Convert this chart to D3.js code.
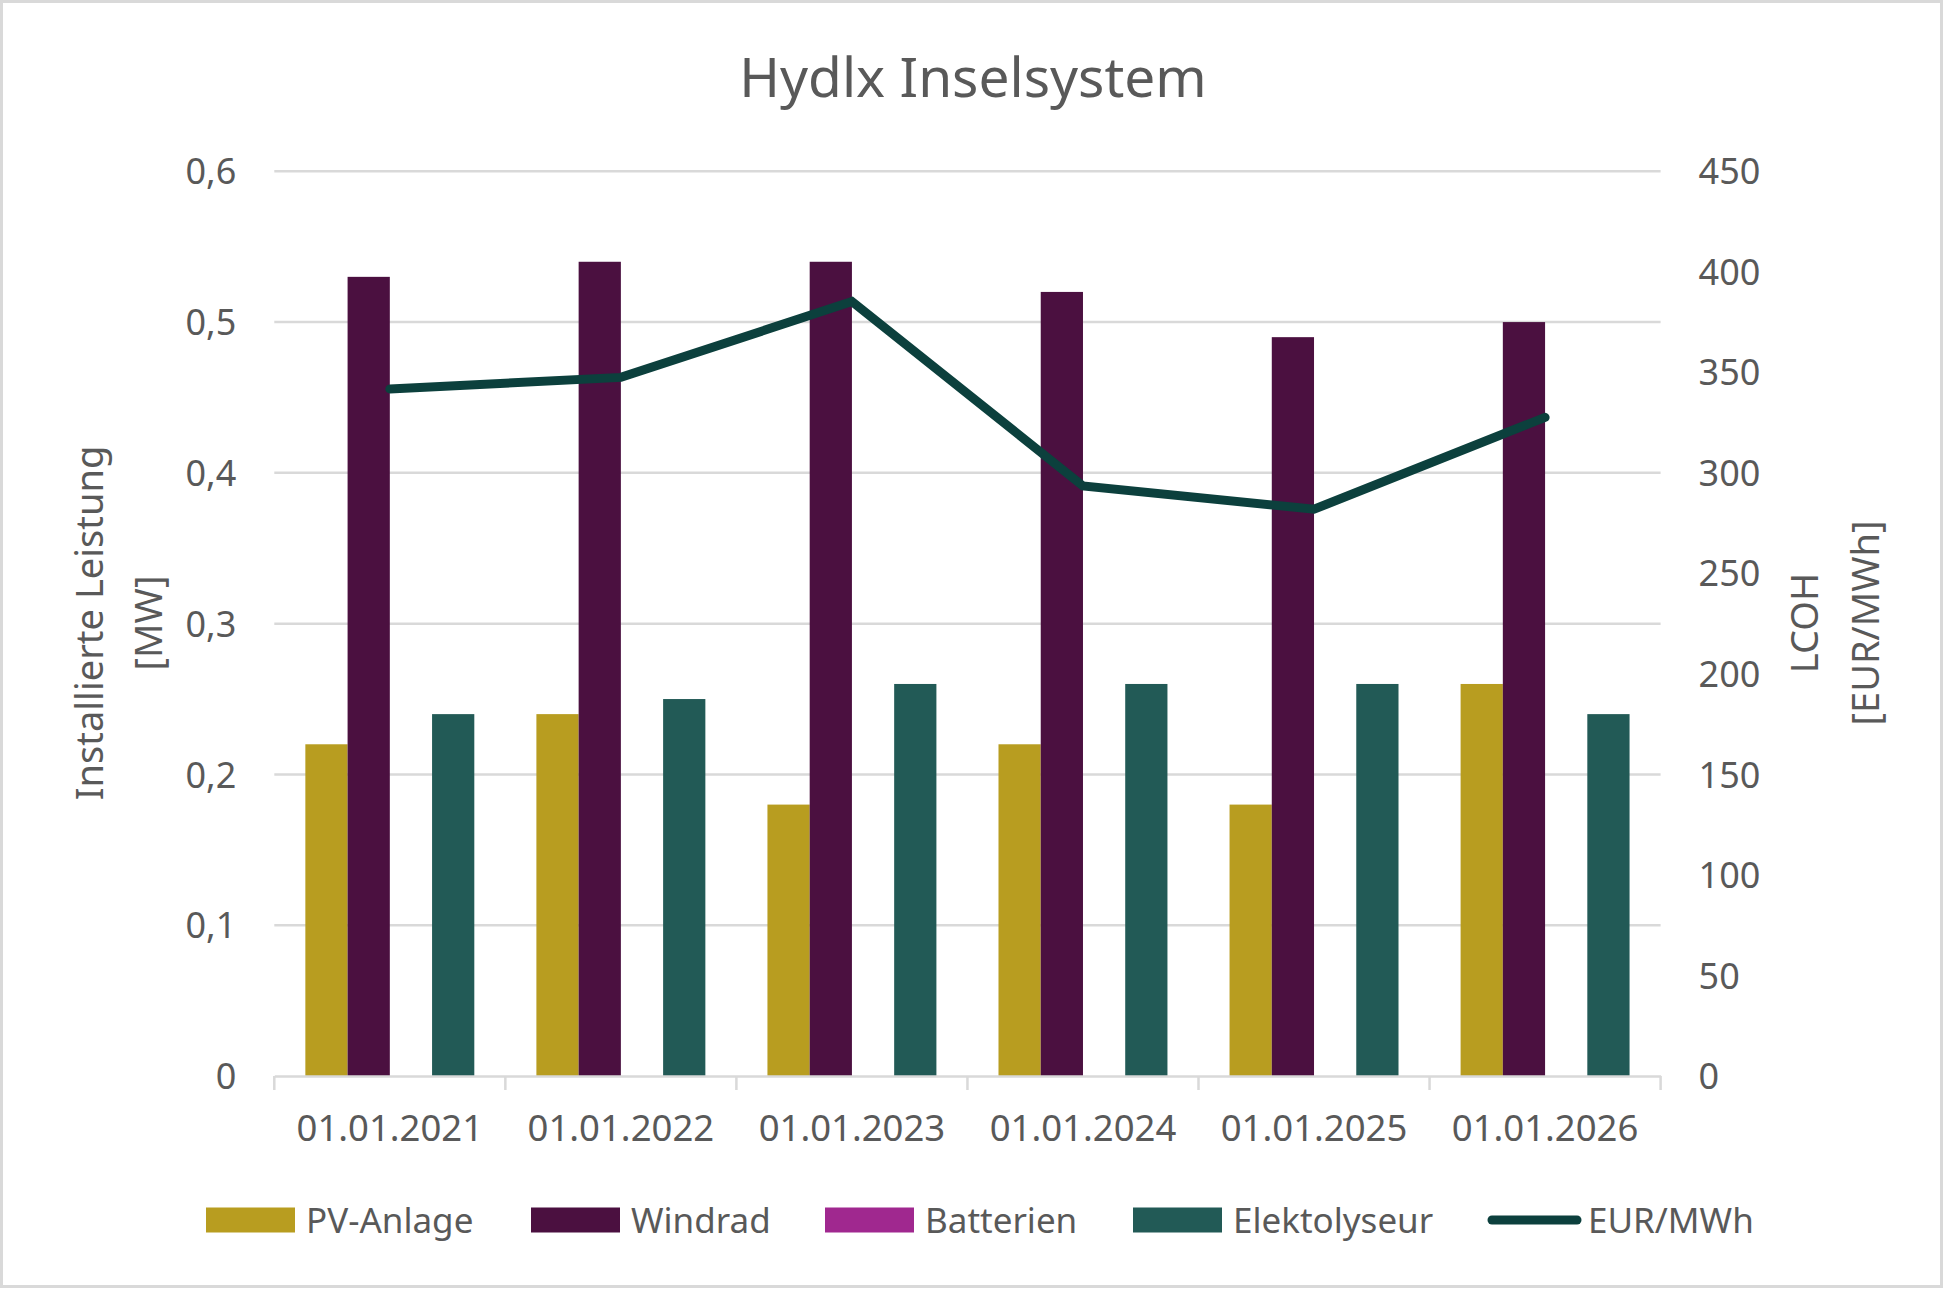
<!DOCTYPE html>
<html>
<head>
<meta charset="utf-8">
<script src="https://cdn.jsdelivr.net/npm/d3@7"></script>
<style>
  html, body { margin: 0; padding: 0; background: #fff; }
  svg { display: block; }
  text { font-family: "Noto Sans", "Open Sans", sans-serif; fill: #595959; }
</style>
</head>
<body>
<svg id="chart" width="1946" height="1289"></svg>
<script>
// ---- data ----
const categories = ["01.01.2021", "01.01.2022", "01.01.2023", "01.01.2024", "01.01.2025", "01.01.2026"];
const seriesNames = ["PV-Anlage", "Windrad", "Batterien", "Elektolyseur"];
const pvAnlage     = [0.22, 0.24, 0.18, 0.22, 0.18, 0.26];
const windrad      = [0.53, 0.54, 0.54, 0.52, 0.49, 0.50];
const batterien    = [0, 0, 0, 0, 0, 0];
const elektolyseur = [0.24, 0.25, 0.26, 0.26, 0.26, 0.24];
const eurMWh       = [341.7, 347.5, 385.2, 293.5, 281.9, 327.6];
const leftTicks  = [0, 0.1, 0.2, 0.3, 0.4, 0.5, 0.6];
const rightTicks = [0, 50, 100, 150, 200, 250, 300, 350, 400, 450];
const lineName = "EUR/MWh";
const title = "Hydlx Inselsystem";
const leftTitle = ["Installierte Leistung", "[MW]"];
const rightTitle = ["LCOH", "[EUR/MWh]"];

const seriesValues = [pvAnlage, windrad, batterien, elektolyseur];
const colors = ["#b89d20", "#4b1040", "#a0288f", "#225a56"];
const lineColor = "#0c403d";

// ---- layout ----
const svg = d3.select("#chart");
const W = 1946, H = 1289;
const plot = { left: 274.3, right: 1660.6, top: 171.3, bottom: 1076 };

svg.append("rect")
  .attr("x", 1.5).attr("y", 1.5).attr("width", W - 6).attr("height", H - 4)
  .attr("fill", "#fff").attr("stroke", "#d9d9d9").attr("stroke-width", 3);

const x = d3.scaleBand().domain(categories).range([plot.left, plot.right]).padding(0);
const x1 = d3.scaleBand().domain(seriesNames).range([0, x.bandwidth()])
  .paddingInner(0).paddingOuter(0.735);
const yL = d3.scaleLinear().domain([0, 0.6]).range([plot.bottom, plot.top]);
const yR = d3.scaleLinear().domain([0, 450]).range([plot.bottom, plot.top]);

// gridlines
svg.append("g").selectAll("line").data(leftTicks.filter(d => d > 0)).join("line")
  .attr("x1", plot.left).attr("x2", plot.right)
  .attr("y1", d => yL(d)).attr("y2", d => yL(d))
  .attr("stroke", "#d9d9d9").attr("stroke-width", 2.5);

// bars
seriesNames.forEach((s, si) => {
  svg.append("g").selectAll("rect").data(categories).join("rect")
    .attr("x", c => x(c) + x1(s))
    .attr("width", x1.bandwidth())
    .attr("y", (c, i) => yL(seriesValues[si][i]))
    .attr("height", (c, i) => plot.bottom - yL(seriesValues[si][i]))
    .attr("fill", colors[si]);
});

// bottom axis
const xAxis = d3.axisBottom(x).tickSize(0).tickFormat(d => d);
const gx = svg.append("g").attr("transform", `translate(0,${plot.bottom})`).call(xAxis);
gx.select(".domain").attr("stroke", "#d9d9d9").attr("stroke-width", 2.5);
gx.selectAll(".tick text").attr("font-size", 36.5).attr("dy", 0).attr("y", 65)
  .attr("fill", "#595959").style("font-family", '"Noto Sans", sans-serif');
// category boundary ticks
const bounds = categories.map(c => x(c)).concat([plot.right]);
svg.append("g").selectAll("line").data(bounds).join("line")
  .attr("x1", d => d).attr("x2", d => d)
  .attr("y1", plot.bottom).attr("y2", plot.bottom + 14)
  .attr("stroke", "#d9d9d9").attr("stroke-width", 2.5);

// left axis labels
const commaFmt = d => d === 0 ? "0" : d3.format(".1f")(d).replace(".", ",");
const yAxisL = d3.axisLeft(yL).tickValues(leftTicks).tickSize(0).tickFormat(commaFmt);
const gyl = svg.append("g").attr("transform", `translate(${plot.left - 38},0)`).call(yAxisL);
gyl.select(".domain").remove();
gyl.selectAll(".tick text").attr("font-size", 36).attr("x", 0).attr("dy", "0.35em")
  .attr("fill", "#595959").style("font-family", '"Noto Sans", sans-serif');

// right axis labels
const yAxisR = d3.axisRight(yR).tickValues(rightTicks).tickSize(0).tickFormat(d3.format("d"));
const gyr = svg.append("g").attr("transform", `translate(${plot.right + 38},0)`).call(yAxisR);
gyr.select(".domain").remove();
gyr.selectAll(".tick text").attr("font-size", 36).attr("x", 0).attr("dy", "0.35em")
  .attr("fill", "#595959").style("font-family", '"Noto Sans", sans-serif');

// line
const line = d3.line().x((d, i) => x(categories[i]) + x.bandwidth() / 2).y(d => yR(d));
svg.append("path").datum(eurMWh).attr("d", line)
  .attr("fill", "none").attr("stroke", lineColor).attr("stroke-width", 9)
  .attr("stroke-linecap", "round").attr("stroke-linejoin", "miter");

// title
svg.append("text").attr("x", 973).attr("y", 75).attr("text-anchor", "middle")
  .attr("dominant-baseline", "central").attr("font-size", 55).text(title);

// axis titles
const midY = 623;
[[87.5, leftTitle[0]], [146.5, leftTitle[1]]].forEach(([cx, t]) => {
  svg.append("text").attr("transform", `translate(${cx},${midY}) rotate(-90)`)
    .attr("text-anchor", "middle").attr("dominant-baseline", "central")
    .attr("font-size", 38).text(t);
});
[[1803, rightTitle[0]], [1863.5, rightTitle[1]]].forEach(([cx, t]) => {
  svg.append("text").attr("transform", `translate(${cx},${midY}) rotate(-90)`)
    .attr("text-anchor", "middle").attr("dominant-baseline", "central")
    .attr("font-size", 38).text(t);
});

// legend
const legendY = 1220;
const legendItems = [
  { name: seriesNames[0], color: colors[0], x: 206, type: "rect" },
  { name: seriesNames[1], color: colors[1], x: 531, type: "rect" },
  { name: seriesNames[2], color: colors[2], x: 825, type: "rect" },
  { name: seriesNames[3], color: colors[3], x: 1133, type: "rect" },
  { name: lineName, color: lineColor, x: 1488, type: "line" }
];
const lg = svg.append("g");
legendItems.forEach(it => {
  if (it.type === "rect") {
    lg.append("rect").attr("x", it.x).attr("y", legendY - 12.5).attr("width", 89).attr("height", 25)
      .attr("fill", it.color);
  } else {
    lg.append("line").attr("x1", it.x + 4).attr("x2", it.x + 89).attr("y1", legendY).attr("y2", legendY)
      .attr("stroke", it.color).attr("stroke-width", 9).attr("stroke-linecap", "round");
  }
  lg.append("text").attr("x", it.x + 100).attr("y", legendY - 1).attr("dominant-baseline", "central")
    .attr("font-size", 35).text(it.name);
});
</script>
</body>
</html>
